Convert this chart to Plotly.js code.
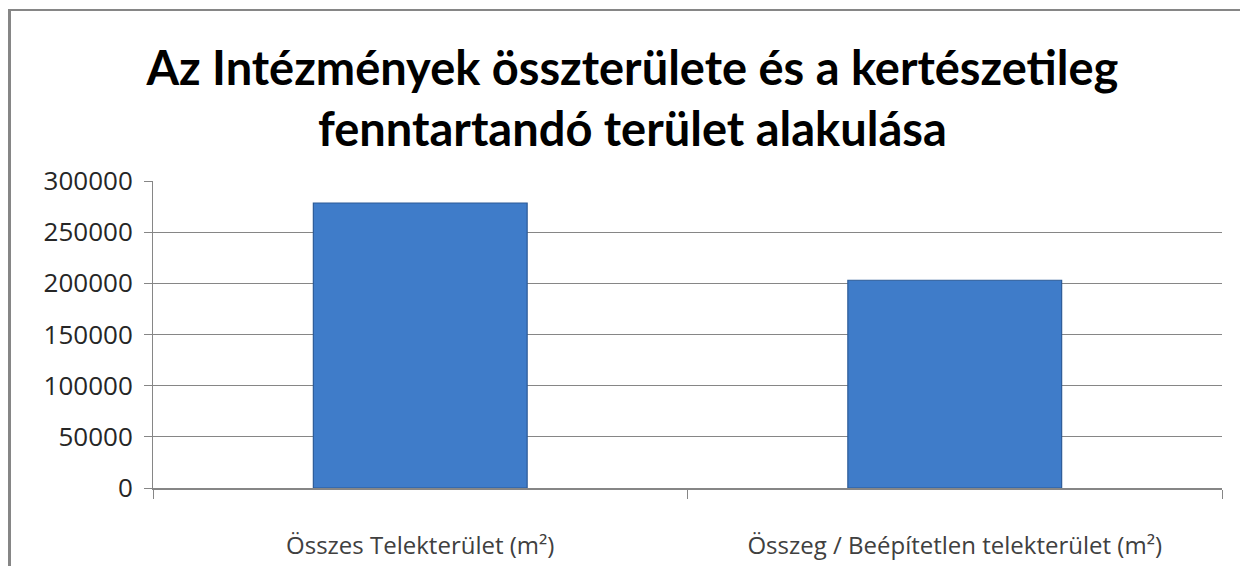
<!DOCTYPE html>
<html>
<head>
<meta charset="utf-8">
<script src="https://cdn.plot.ly/plotly-3.0.1.min.js"></script>
<style>
  html, body { margin: 0; padding: 0; background: #fff; overflow: hidden; }
  #wrap { position: relative; width: 1240px; height: 566px; overflow: hidden; }
  #chart { width: 1240px; height: 566px; }
  #bl { position: absolute; left: 8px; top: 9px; width: 3px; height: 557px; background: #868686; }
  #bt { position: absolute; left: 8px; top: 9px; width: 1232px; height: 2px; background: #868686; }
</style>
</head>
<body>
<div id="wrap">
  <div id="chart"></div>
  <div id="bl"></div>
  <div id="bt"></div>
</div>
<script>
const categories = ["Összes Telekterület (m²)", "Összeg / Beépítetlen telekterület (m²)"];
const values = [278500, 203000];
const tickValues = [0, 50000, 100000, 150000, 200000, 250000, 300000];
const tickLabels = ["0", "50000", "100000", "150000", "200000", "250000", "300000"];
const chartTitle = "Az Intézmények összterülete és a kertészetileg<br>fenntartandó terület alakulása";

const trace = {
  type: "bar",
  x: categories,
  y: values,
  marker: { color: "#3f7cc9", line: { color: "#2c5b98", width: 1.2 } },
  hoverinfo: "x+y"
};

const layout = {
  width: 1240,
  height: 566,
  margin: { l: 153, r: 18, t: 181, b: 78 },
  paper_bgcolor: "#ffffff",
  plot_bgcolor: "#ffffff",
  bargap: 0.6,
  showlegend: false,
  title: {
    text: chartTitle,
    x: 0.51, xanchor: "center",
    y: 0.85, yref: "container", yanchor: "middle",
    font: { family: "Lato, 'Open Sans', sans-serif", size: 47, color: "#000000", weight: "bold" }
  },
  xaxis: {
    type: "category",
    showline: true, linecolor: "#868686", linewidth: 1.5,
    ticks: "outside", ticklen: 9, tickcolor: "#868686", tickwidth: 1,
    tickson: "boundaries",
    ticklabelstandoff: 36,
    tickfont: { family: "'Open Sans', sans-serif", size: 24, color: "#404040" },
    showgrid: false
  },
  yaxis: {
    range: [0, 300000],
    tickmode: "array", tickvals: tickValues, ticktext: tickLabels,
    showline: true, linecolor: "#868686", linewidth: 1,
    ticks: "outside", ticklen: 8, tickcolor: "#868686",
    ticklabelstandoff: 6,
    showgrid: true, gridcolor: "#868686", gridwidth: 1,
    zeroline: false,
    tickfont: { family: "'Open Sans', sans-serif", size: 26, color: "#262626" }
  }
};

Plotly.newPlot("chart", [trace], layout, { displayModeBar: false, staticPlot: true });
</script>
</body>
</html>
